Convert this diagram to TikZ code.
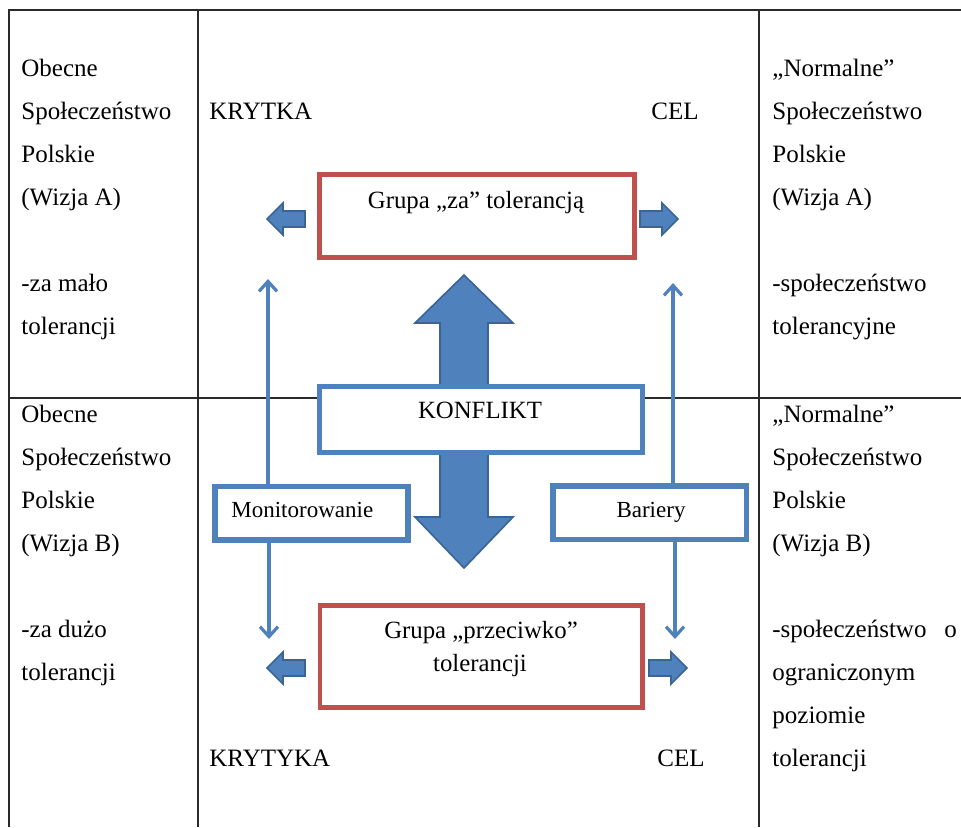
\documentclass[tikz,border=0pt]{standalone}
\usepackage{fontspec}
\setmainfont{Liberation Serif}
\usetikzlibrary{arrows.meta}
\definecolor{accblue}{HTML}{4F81BD}
\definecolor{accblueD}{HTML}{3A6494}
\definecolor{accred}{HTML}{C0504D}
\definecolor{gridc}{HTML}{2A2A2A}
\begin{document}
\begin{tikzpicture}[x=0.5pt,y=-0.5pt,
  gridline/.style={draw=gridc,line width=0.7pt},
  celltxt/.style={anchor=base west,inner sep=0pt,font=\fontsize{12.5}{15}\selectfont},
  redbox/.style={draw=accred,line width=2.4pt,fill=white,inner sep=0pt,outer sep=0pt,anchor=north west},
  bluebox/.style={draw=accblue,line width=2.6pt,fill=white,inner sep=0pt,outer sep=0pt,anchor=north west},
  boxtxt/.style={anchor=base,inner sep=0pt,font=\fontsize{12.4}{15}\selectfont},
  smalltxt/.style={inner sep=0pt,font=\fontsize{11.5}{14}\selectfont},
  blockarrow/.style={fill=accblue,draw=accblueD,line width=0.8pt,line join=miter},
  thinarrow/.style={draw=accblue,line width=1.6pt,-{Straight Barb[length=5pt,width=9pt,line width=1.6pt]}}]
\useasboundingbox (0,0) rectangle (961,827);

% table grid
\draw[gridline] (9,827) -- (9,10) -- (961,10);
\draw[gridline] (198,10) -- (198,827);
\draw[gridline] (759,10) -- (759,827);
\draw[gridline] (9,398) -- (961,398);

% big double arrow
\draw[blockarrow] (464,275) -- (513,323) -- (488,323) -- (488,517) -- (513,517)
  -- (464,568) -- (415,517) -- (440,517) -- (440,323) -- (415,323) -- cycle;

% boxes
\node[redbox, minimum width=157.5pt, minimum height=41.5pt] (grpza) at (319.5,174.5) {};
\node[redbox, minimum width=161.25pt, minimum height=51pt] (grpprz) at (320,605.5) {};
\node[bluebox, minimum width=161.5pt, minimum height=33pt] (konf) at (319.5,386.5) {};
\node[bluebox, minimum width=96.5pt, minimum height=26.75pt] (mon) at (215,486.5) {};
\node[bluebox, minimum width=96.75pt, minimum height=26.75pt] (bar) at (553,486) {};

% box texts
\node[boxtxt] (tza) at (476,208) {Grupa „za” tolerancją};
\node[boxtxt] (tkonf) at (480,418) {KONFLIKT};
\node[boxtxt] (tprz1) at (481,638) {Grupa „przeciwko”};
\node[boxtxt] (tprz2) at (480,671) {tolerancji};
\node[smalltxt, anchor=base west] (tmon) at (231,517) {Monitorowanie};
\node[smalltxt, anchor=base] (tbar) at (651,517) {Bariery};

% thin arrows
\coordinate (monUp) at (268,279);
\coordinate (monDown) at (269,639);
\coordinate (barUp) at (673,283);
\coordinate (barDown) at (675,639);
\draw[thinarrow] (mon.north -| monUp) -- (monUp);
\draw[thinarrow] (mon.south -| monDown) -- (monDown);
\draw[thinarrow] (bar.north -| barUp) -- (barUp);
\draw[thinarrow] (bar.south -| barDown) -- (barDown);

% small block arrows
\draw[blockarrow] (267,219) -- ++(16,-16) -- ++(0,8) -- ++(22,0) -- ++(0,16) -- ++(-22,0) -- ++(0,8) -- cycle;
\draw[blockarrow] (678,219) -- ++(-16,-16) -- ++(0,8) -- ++(-22,0) -- ++(0,16) -- ++(22,0) -- ++(0,8) -- cycle;
\draw[blockarrow] (267,668) -- ++(16,-16) -- ++(0,8) -- ++(22,0) -- ++(0,16) -- ++(-22,0) -- ++(0,8) -- cycle;
\draw[blockarrow] (687,668) -- ++(-16,-16) -- ++(0,8) -- ++(-22,0) -- ++(0,16) -- ++(22,0) -- ++(0,8) -- cycle;

% left column, top
\node[celltxt] (la1) at (21,76) {Obecne};
\node[celltxt] (la2) at (21,119) {Społeczeństwo};
\node[celltxt] (la3) at (21,162) {Polskie};
\node[celltxt] (la4) at (21,205) {(Wizja A)};
\node[celltxt] (la5) at (21,291) {-za mało};
\node[celltxt] (la6) at (21,334) {tolerancji};
% left column, bottom
\node[celltxt] (lb1) at (21,422) {Obecne};
\node[celltxt] (lb2) at (21,465) {Społeczeństwo};
\node[celltxt] (lb3) at (21,508) {Polskie};
\node[celltxt] (lb4) at (21,551) {(Wizja B)};
\node[celltxt] (lb5) at (21,637) {-za dużo};
\node[celltxt] (lb6) at (21,680) {tolerancji};

% middle column labels
\node[celltxt] (kryt1) at (209,119) {KRYTKA};
\node[celltxt] (cel1) at (651,119) {CEL};
\node[celltxt] (kryt2) at (209,766) {KRYTYKA};
\node[celltxt] (cel2) at (657,766) {CEL};

% right column, top
\node[celltxt] (ra1) at (772,76) {„Normalne”};
\node[celltxt] (ra2) at (772,119) {Społeczeństwo};
\node[celltxt] (ra3) at (772,162) {Polskie};
\node[celltxt] (ra4) at (772,205) {(Wizja A)};
\node[celltxt] (ra5) at (772,291) {-społeczeństwo};
\node[celltxt] (ra6) at (772,334) {tolerancyjne};
% right column, bottom
\node[celltxt] (rb1) at (772,422) {„Normalne”};
\node[celltxt] (rb2) at (772,465) {Społeczeństwo};
\node[celltxt] (rb3) at (772,508) {Polskie};
\node[celltxt] (rb4) at (772,551) {(Wizja B)};
\node[celltxt] (rb5) at (772,637) {-społeczeństwo};
\node[celltxt] (rb5o) at (944,637) {o};
\node[celltxt] (rb6) at (772,680) {ograniczonym};
\node[celltxt] (rb7) at (772,723) {poziomie};
\node[celltxt] (rb8) at (772,766) {tolerancji};
\end{tikzpicture}
\end{document}
